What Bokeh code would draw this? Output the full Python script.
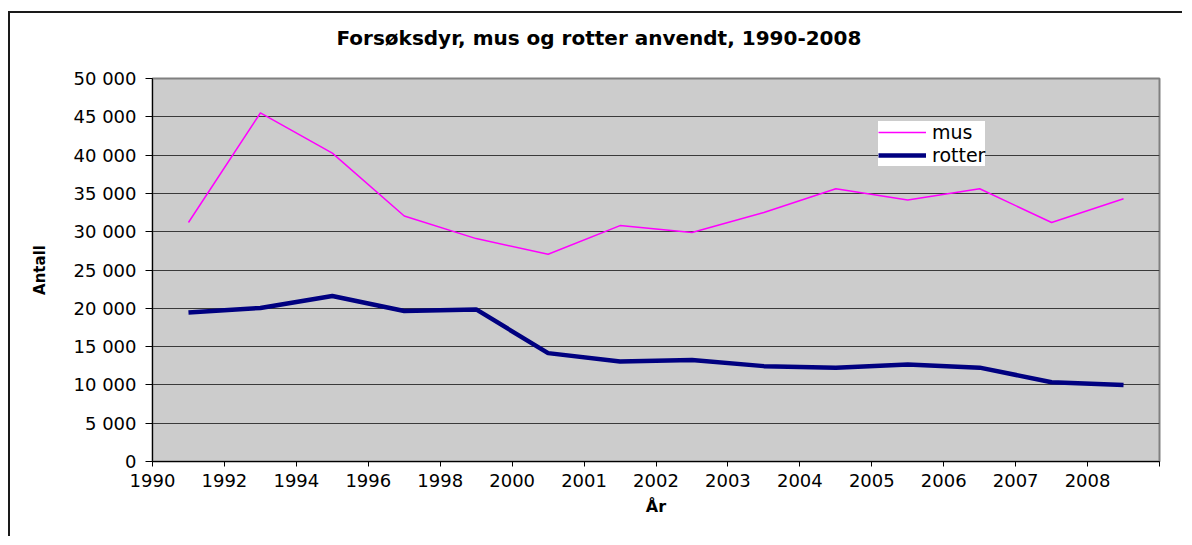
from bokeh.plotting import figure
from bokeh.models import Range1d, FixedTicker, Legend, LegendItem, Title
from bokeh.embed import file_html
from bokeh.resources import INLINE

chart_title = "Forsøksdyr, mus og rotter anvendt, 1990-2008"
x_title = "År"
y_title = "Antall"
x_labels = ["1990", "1992", "1994", "1996", "1998", "2000", "2001", "2002",
            "2003", "2004", "2005", "2006", "2007", "2008"]
mus = [31200, 45500, 40250, 32050, 29100, 27050, 30800, 29900,
       32500, 35600, 34150, 35600, 31200, 34300]
rotter = [19450, 20050, 21600, 19650, 19850, 14150, 13050, 13250,
          12450, 12250, 12650, 12250, 10350, 9980]
y_ticks = list(range(0, 50001, 5000))

n = len(x_labels)
xs = [i + 0.5 for i in range(n)]

p = figure(width=1174, height=525, x_range=Range1d(0, n), y_range=Range1d(0, 50000),
           output_backend="svg", toolbar_location=None, title=None,
           min_border_left=142, min_border_right=25, min_border_top=65, min_border_bottom=77)
p.styles = {"border-top": "2px solid #1a1a1a", "border-left": "2px solid #1a1a1a",
            "margin-top": "11px", "margin-left": "8px"}

# spacer nearest the frame, then the chart title above it
p.add_layout(Title(text=" ", standoff=10, text_font_size="16px"), "above")
p.add_layout(Title(text=chart_title, align="left", offset=184, standoff=0,
                   text_font="DejaVu Sans", text_font_style="bold",
                   text_font_size="20px", text_color="black"), "above")

p.background_fill_color = "#cccccc"
p.border_fill_color = "white"
p.outline_line_color = "#808080"
p.outline_line_width = 2

p.xgrid.visible = False
p.ygrid.ticker = FixedTicker(ticks=y_ticks)
p.ygrid.grid_line_color = "#3a3a3a"
p.ygrid.grid_line_width = 1

ya = p.yaxis[0]
ya.ticker = FixedTicker(ticks=y_ticks)
ya.major_label_overrides = {v: f"{v:,}".replace(",", " ") for v in y_ticks}
ya.axis_line_color = "black"
ya.major_tick_line_color = "black"
ya.major_tick_out = 7
ya.major_tick_in = 0
ya.minor_tick_line_color = None
ya.major_label_standoff = 9
ya.major_label_text_font = "DejaVu Sans"
ya.major_label_text_font_size = "18px"
ya.major_label_text_color = "black"
ya.axis_label = y_title
ya.axis_label_text_font = "DejaVu Sans"
ya.axis_label_text_font_style = "bold"
ya.axis_label_text_font_size = "15px"
ya.axis_label_text_color = "black"
ya.axis_label_standoff = 22

xa = p.xaxis[0]
xa.ticker = FixedTicker(ticks=list(range(n + 1)))
ov = {i: lbl for i, lbl in enumerate(x_labels)}
ov[n] = ""
xa.major_label_overrides = ov
xa.axis_line_color = "black"
xa.major_tick_line_color = "black"
xa.major_tick_out = 5
xa.major_tick_in = 0
xa.minor_tick_line_color = None
xa.major_label_standoff = 7
xa.major_label_text_font = "DejaVu Sans"
xa.major_label_text_font_size = "18px"
xa.major_label_text_color = "black"
xa.axis_label = x_title
xa.axis_label_text_font = "DejaVu Sans"
xa.axis_label_text_font_style = "bold"
xa.axis_label_text_font_size = "16px"
xa.axis_label_text_color = "black"
xa.axis_label_standoff = 7

r_mus = p.line(xs, mus, line_color="#ff00ff", line_width=1.5)
r_rot = p.line(xs, rotter, line_color="#000080", line_width=4.5)

legend = Legend(items=[LegendItem(label="mus", renderers=[r_mus]),
                       LegendItem(label="rotter", renderers=[r_rot])],
                location=(726, 295))
legend.background_fill_color = "white"
legend.background_fill_alpha = 1
legend.border_line_color = None
legend.padding = 6
legend.spacing = 1
legend.margin = 0
legend.label_height = 20
legend.glyph_height = 20
legend.glyph_width = 48
legend.label_standoff = 6
legend.label_text_font = "DejaVu Sans"
legend.label_text_font_size = "19px"
legend.label_text_color = "black"
p.add_layout(legend)

open("out.html", "w").write(file_html(p, INLINE))
